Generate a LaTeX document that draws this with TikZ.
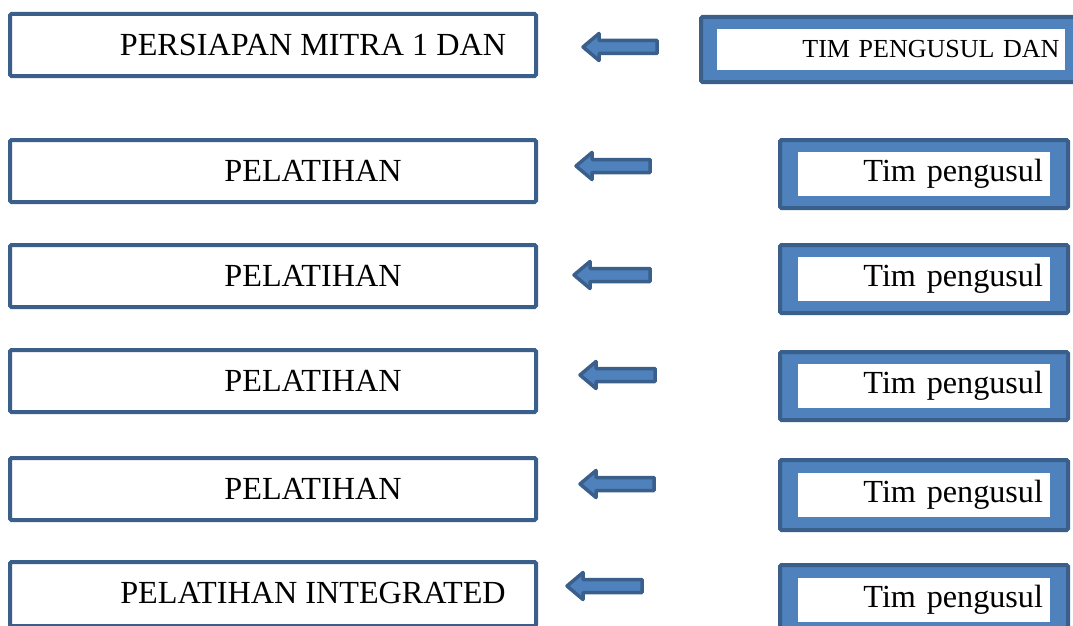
\documentclass[tikz,border=0pt]{standalone}
\usepackage{fontspec}
\setmainfont{Liberation Serif}
\definecolor{dkblue}{HTML}{3A5F8B}
\definecolor{mdblue}{HTML}{4F81BD}
\tikzset{
  lbox/.style={draw=dkblue, line width=4pt, fill=white, rounded corners=1.5pt, minimum width=526pt, minimum height=62pt, inner sep=0pt},
  rbox/.style={draw=dkblue, line width=4pt, fill=mdblue, rounded corners=1.5pt, minimum width=288pt, minimum height=68pt, inner sep=0pt},
  rin/.style={fill=white, minimum width=252pt, minimum height=44pt, text width=238pt, align=right, inner xsep=7pt, inner ysep=0pt, font=\fontsize{32.2}{36}\selectfont},
  ltxt/.style={inner sep=0pt, font=\fontsize{32.2}{36}\selectfont},
  barrow/.style={draw=dkblue, fill=mdblue, line width=3.5pt, line join=round}
}
\newcommand{\blockarrow}[3]{% tip x, right x, center y
  \draw[barrow] (#1,#3) -- ++(16,-13.5) -- ++(0,7) -- (#2,#3-6.5) -- (#2,#3+6.5) -- (#1+16,#3+6.5) -- ++(0,7) -- cycle;}
\begin{document}
\begin{tikzpicture}[x=1pt,y=-1pt]
\useasboundingbox (0,0) rectangle (1073,626);
% left boxes
\node[lbox] (L1) at (273,45) {};
\node[ltxt] (t1) at (313,45) {PERSIAPAN MITRA 1 DAN};
\node[lbox] (L2) at (273,171) {};
\node[ltxt] (t2) at (313,171) {PELATIHAN};
\node[lbox] (L3) at (273,276) {};
\node[ltxt] (t3) at (313,276) {PELATIHAN};
\node[lbox] (L4) at (273,381) {};
\node[ltxt] (t4) at (313,381) {PELATIHAN};
\node[lbox] (L5) at (273,489) {};
\node[ltxt] (t5) at (313,489) {PELATIHAN};
\node[lbox, minimum height=64pt] (L6) at (273,594) {};
\node[ltxt] (t6) at (313,593) {PELATIHAN INTEGRATED};
% right boxes
\node[rbox, minimum width=386pt, minimum height=65pt] (R1) at (894,49.5) {};
\node[rin, minimum width=343pt, minimum height=41pt, text width=338pt, inner xsep=5pt, font=\fontsize{26}{30}\selectfont] (r1) at (890.5,49.5) {TIM PENGUSUL DAN};
\node[rbox] (R2) at (924,174) {};
\node[rin] (r2) at (924,174) {Tim pengusul};
\node[rbox] (R3) at (924,279) {};
\node[rin] (r3) at (924,279) {Tim pengusul};
\node[rbox] (R4) at (924,386) {};
\node[rin] (r4) at (924,386) {Tim pengusul};
\node[rbox, minimum height=70pt] (R5) at (924,495) {};
\node[rin] (r5) at (924,495) {Tim pengusul};
\node[rbox] (R6) at (924,599) {};
\node[rin] (r6) at (924,600) {Tim pengusul};
% block arrows
\blockarrow{583}{657}{47}
\blockarrow{576}{650}{166}
\blockarrow{574}{650}{275}
\blockarrow{580}{655}{375}
\blockarrow{580}{654}{484}
\blockarrow{567}{642}{586}
\end{tikzpicture}
\end{document}
